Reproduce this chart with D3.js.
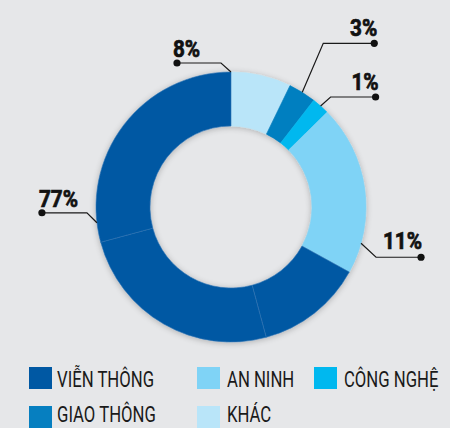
<!DOCTYPE html>
<html>
<head>
<meta charset="utf-8">
<script src="https://cdn.jsdelivr.net/npm/d3@7"></script>
<style>
  html, body { margin: 0; padding: 0; background: #e6e7e9; }
  svg { display: block; }
  .pct { font-family: Roboto, "Liberation Sans", sans-serif; font-weight: bold; font-size: 23px; fill: #111; stroke: #111; stroke-width: 0.7px; }
  .legend text { font-family: Roboto, "Liberation Sans", sans-serif; font-size: 22px; fill: #1a1a1a; }
  .leader { fill: none; stroke: #1a1a1a; stroke-width: 1.2; }
</style>
</head>
<body>
<div id="chart"></div>
<script>
// categories + colours
var categories = ['VIỄN THÔNG', 'AN NINH', 'CÔNG NGHỆ', 'GIAO THÔNG', 'KHÁC'];
var colors = ['#0058a3', '#7fd3f6', '#00b8ef', '#067fc0', '#b9e5f9'];
var percentLabels = ['77%', '11%', '1%', '3%', '8%'];

// slices as drawn in the picture (clockwise from 12 o'clock), share of the ring
var sliceCategories = ['KHÁC', 'GIAO THÔNG', 'CÔNG NGHỆ', 'AN NINH', 'VIỄN THÔNG', 'VIỄN THÔNG', 'VIỄN THÔNG'];
var sliceValues = [7.2, 3.3, 2.1, 20.4, 12.8, 25, 29.2];

var width = 450, height = 428;
var cx = 231, cy = 207, rOuter = 135, rInner = 81;
// the source uses a condensed face, so squeeze text horizontally
var squeezePct = 0.9, squeezeLegend = 0.76;

var svg = d3.select('#chart').append('svg')
    .attr('width', width)
    .attr('height', height);

// soft shadow round the ring
var defs = svg.append('defs');
var shadow = defs.append('filter').attr('id', 'shadow')
    .attr('x', '-20%').attr('y', '-20%').attr('width', '140%').attr('height', '140%');
shadow.append('feGaussianBlur').attr('in', 'SourceAlpha').attr('stdDeviation', 3);
shadow.append('feOffset').attr('dx', 0).attr('dy', 1).attr('result', 'blur');
shadow.append('feComponentTransfer').append('feFuncA').attr('type', 'linear').attr('slope', 0.25);
var merge = shadow.append('feMerge');
merge.append('feMergeNode');
merge.append('feMergeNode').attr('in', 'SourceGraphic');

var colorScale = d3.scaleOrdinal().domain(categories).range(colors);

var slices = sliceValues.map(function(v, i) { return {cat: sliceCategories[i], value: v}; });

var pie = d3.pie().sort(null).value(function(d) { return d.value; });
var arc = d3.arc().innerRadius(rInner).outerRadius(rOuter);
var arcs = pie(slices);

var ring = svg.append('g')
    .attr('transform', 'translate(' + cx + ',' + cy + ')')
    .attr('filter', 'url(#shadow)');

ring.selectAll('.slice')
    .data(arcs)
    .enter()
    .append('path')
    .attr('class', 'slice')
    .attr('d', arc)
    .attr('fill', function(d) { return colorScale(d.data.cat); })
    .attr('stroke', function(d) { return d.data.cat === 'VIỄN THÔNG' ? '#2f74b3' : colorScale(d.data.cat); })
    .attr('stroke-width', 0.6);

// leader lines: which slice, where on it (0..1 along the slice), elbow & dot offsets
var callouts = [
    {label: percentLabels[4], slice: 0, t: 0.0, elbow: [-10, -9], dot: [-54, -9], anchor: 'start', text: [-4, -6]},
    {label: percentLabels[3], slice: 1, t: 0.5, elbow: [21, -49], dot: [72, -49], anchor: 'end', text: [3, -7]},
    {label: percentLabels[2], slice: 2, t: 0.5, elbow: [10, -9], dot: [55, -9], anchor: 'end', text: [3, -7]},
    {label: percentLabels[1], slice: 3, t: 0.82, elbow: [15, 14], dot: [60, 14], anchor: 'end', text: [1, -8]},
    {label: percentLabels[0], slice: 6, t: 0.08, elbow: [-10, -10], dot: [-55, -10], anchor: 'start', text: [-3, -6]}
];

var labels = svg.append('g').attr('transform', 'translate(' + cx + ',' + cy + ')');

callouts.forEach(function(c) {
    var a = arcs[c.slice];
    var ang = a.startAngle + (a.endAngle - a.startAngle) * c.t;
    var p0 = [rOuter * Math.sin(ang), -rOuter * Math.cos(ang)];
    var p1 = [p0[0] + c.elbow[0], p0[1] + c.elbow[1]];
    var p2 = [p0[0] + c.dot[0], p0[1] + c.dot[1]];
    labels.append('path')
        .attr('class', 'leader')
        .attr('d', d3.line()([p0, p1, p2]));
    labels.append('circle')
        .attr('cx', p2[0]).attr('cy', p2[1])
        .attr('r', 3.6)
        .attr('fill', '#111');
    labels.append('text')
        .attr('class', 'pct')
        .attr('transform', 'translate(' + (p2[0] + c.text[0]) + ',' + (p2[1] + c.text[1]) + ') scale(' + squeezePct + ',1)')
        .attr('text-anchor', c.anchor)
        .text(c.label);
});

// legend, 3 columns x 2 rows
var legendCols = [29, 197, 314];
var legendY = d3.scalePoint().domain([0, 1]).range([367, 406]);

var legend = svg.append('g').attr('class', 'legend');

var items = legend.selectAll('.item')
    .data(categories)
    .enter()
    .append('g')
    .attr('class', 'item')
    .attr('transform', function(d, i) {
        return 'translate(' + legendCols[i % 3] + ',' + legendY(Math.floor(i / 3)) + ')';
    });

items.append('rect')
    .attr('width', 23)
    .attr('height', 22)
    .attr('fill', function(d) { return colorScale(d); });

items.append('text')
    .attr('transform', function(d, i) {
        return 'translate(' + (i % 3 === 0 ? 28 : 30) + ',' + (i < 3 ? 20 : 16) + ') scale(' + squeezeLegend + ',1)';
    })
    .text(function(d) { return d; });
</script>
</body>
</html>
